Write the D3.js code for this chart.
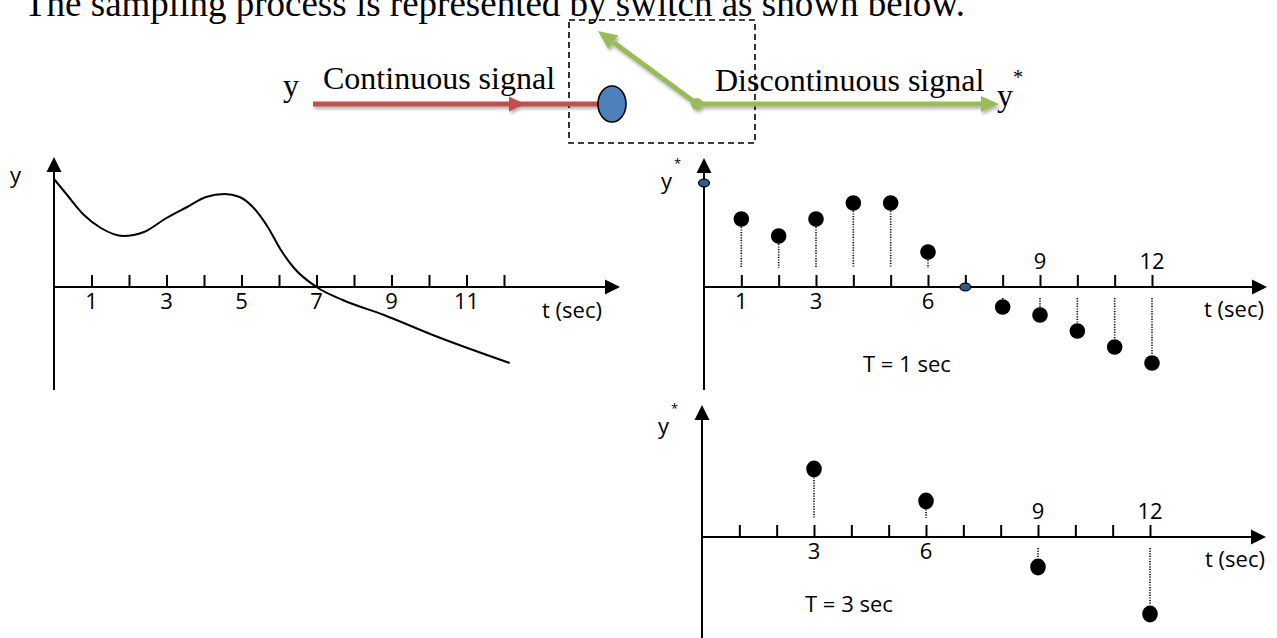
<!DOCTYPE html>
<html>
<head>
<meta charset="utf-8">
<script src="https://cdn.jsdelivr.net/npm/d3@7"></script>
<style>
  html, body { margin: 0; padding: 0; background: #fff; overflow: hidden; }
  svg { display: block; }
</style>
</head>
<body>
<svg id="fig" width="1277" height="638"></svg>
<script>
// ---- text ----
const titleText = "The sampling process is represented by switch as shown below.";
const inputLabel = "Continuous signal";
const outputLabel = "Discontinuous signal";

// ---- continuous signal y(t) ----
const curveT = [0, 0.35, 0.8, 1.25, 1.85, 2.4, 3.0, 3.55, 4.05, 4.55, 4.95, 5.3, 5.7, 6.05, 6.4, 7.0, 7.7, 8.8, 10.1, 12.15];
const curveY = [10.8, 9.2, 7.2, 5.9, 5.1, 5.5, 6.9, 8.0, 9.0, 9.3, 9.0, 8.0, 6.0, 3.7, 1.9, 0, -1.3, -2.8, -4.8, -7.6];

// ---- ticks and tick labels ----
const tickT = [1, 2, 3, 4, 5, 6, 7, 8, 9, 10, 11, 12];
const leftLabels = [1, 3, 5, 7, 9, 11];
const t1LabelsBelow = [1, 3, 6];
const t1LabelsAbove = [9, 12];
const t3LabelsBelow = [3, 6];
const t3LabelsAbove = [9, 12];

// ---- sampled signal y*(t), T = 1 sec ----
const sampleT = [1, 2, 3, 4, 5, 6, 8, 9, 10, 11, 12];
const sampleY = [6.8, 5.1, 6.8, 8.4, 8.4, 3.5, -2.0, -2.8, -4.4, -6.0, -7.6];
const switchT = [0, 7];
const switchY = [10.4, 0];

// ---- sampled signal y*(t), T = 3 sec ----
const slowT = [3, 6, 9, 12];
const slowY = [6.8, 3.6, -3.0, -7.7];

const svg = d3.select("#fig");
const SANS = "'Open Sans', 'Noto Sans', sans-serif";
const SERIF = "'Liberation Serif', 'Times New Roman', serif";
const LABEL_SIZE = 22;

const defs = svg.append("defs");
const shadow = defs.append("filter").attr("id", "soft")
  .attr("filterUnits", "userSpaceOnUse")
  .attr("x", 0).attr("y", 0).attr("width", 1277).attr("height", 200);
shadow.append("feDropShadow").attr("dx", 1.5).attr("dy", 2.5)
  .attr("stdDeviation", 1.6).attr("flood-color", "#000").attr("flood-opacity", 0.3);

// ---------- switch diagram ----------
svg.append("text").attr("x", 24).attr("y", 16)
  .attr("font-family", SERIF).attr("font-size", 37).attr("fill", "#000")
  .text(titleText);

const diag = svg.append("g");
diag.append("rect").attr("x", 569).attr("y", 20).attr("width", 186).attr("height", 123)
  .attr("fill", "none").attr("stroke", "#000").attr("stroke-width", 1.6)
  .attr("stroke-dasharray", "6 4");

const RED = "#c0504d", GREEN = "#9bbb59", BLUE = "#4f81bd";
const wires = diag.append("g").attr("filter", "url(#soft)");
// input wire with a mid arrow
wires.append("line").attr("x1", 313).attr("x2", 600).attr("y1", 104).attr("y2", 104)
  .attr("stroke", RED).attr("stroke-width", 5);
wires.append("path").attr("d", "M525,104 L509,96.5 L509,111.5 Z").attr("fill", RED);

// output wire
wires.append("line").attr("x1", 697).attr("x2", 982).attr("y1", 104).attr("y2", 104)
  .attr("stroke", GREEN).attr("stroke-width", 5);
wires.append("path").attr("d", "M999,104 L981,96 L981,112 Z").attr("fill", GREEN);

// switch arm
const pivot = [697, 104], armTip = [598, 31];
const dx = armTip[0] - pivot[0], dy = armTip[1] - pivot[1];
const len = Math.hypot(dx, dy), ux = dx / len, uy = dy / len;
const hl = 19, hw = 8.5;
const bx = armTip[0] - ux * hl, by = armTip[1] - uy * hl;
wires.append("line").attr("x1", pivot[0]).attr("y1", pivot[1]).attr("x2", bx).attr("y2", by)
  .attr("stroke", GREEN).attr("stroke-width", 5);
wires.append("path")
  .attr("d", `M${armTip[0]},${armTip[1]} L${bx - uy * hw},${by + ux * hw} L${bx + uy * hw},${by - ux * hw} Z`)
  .attr("fill", GREEN);
wires.append("circle").attr("cx", pivot[0]).attr("cy", pivot[1]).attr("r", 6).attr("fill", GREEN);

diag.append("ellipse").attr("cx", 612).attr("cy", 104).attr("rx", 14).attr("ry", 18)
  .attr("fill", BLUE).attr("stroke", "#000").attr("stroke-width", 1.6);

diag.append("text").attr("x", 283).attr("y", 96).attr("font-family", SERIF).attr("font-size", 32).text("y");
diag.append("text").attr("x", 323).attr("y", 89).attr("font-family", SERIF).attr("font-size", 32).text(inputLabel);
diag.append("text").attr("x", 715).attr("y", 91).attr("font-family", SERIF).attr("font-size", 32).text(outputLabel);
diag.append("text").attr("x", 997).attr("y", 106).attr("font-family", SERIF).attr("font-size", 32).text("y");
diag.append("text").attr("x", 1013).attr("y", 84).attr("font-family", SERIF).attr("font-size", 20).text("*");

// ---------- shared axis drawing ----------
function drawAxes(g, x, y, o) {
  const ox = x(0), oy = y(0);
  g.append("line").attr("x1", ox).attr("x2", ox).attr("y1", o.yBottom).attr("y2", o.yTip + 12)
    .attr("stroke", "#000").attr("stroke-width", 2);
  g.append("path").attr("d", `M${ox},${o.yTip} L${ox - 7.5},${o.yTip + 15} L${ox + 7.5},${o.yTip + 15} Z`)
    .attr("fill", "#000");
  g.append("line").attr("x1", ox).attr("x2", o.xTip - 12).attr("y1", oy).attr("y2", oy)
    .attr("stroke", "#000").attr("stroke-width", 2);
  g.append("path").attr("d", `M${o.xTip},${oy} L${o.xTip - 15},${oy - 7.5} L${o.xTip - 15},${oy + 7.5} Z`)
    .attr("fill", "#000");
  const axis = d3.axisBottom(x).tickValues(tickT).tickSizeInner(-12).tickSizeOuter(0).tickFormat("");
  const ag = g.append("g").attr("transform", `translate(0,${oy})`).call(axis);
  ag.select(".domain").remove();
  ag.selectAll(".tick line").attr("stroke", "#000").attr("stroke-width", 2);
}

function tickLabels(g, x, y, values, dy) {
  g.selectAll(null).data(values).join("text")
    .attr("x", d => x(d)).attr("y", y(0) + dy)
    .attr("text-anchor", "middle").attr("font-family", SANS).attr("font-size", LABEL_SIZE)
    .text(d => d);
}

function axisText(g, xPos, yPos, str, size) {
  return g.append("text").attr("x", xPos).attr("y", yPos)
    .attr("font-family", SANS).attr("font-size", size || LABEL_SIZE).text(str);
}

function starLabel(g, xPos, yPos) {
  axisText(g, xPos, yPos, "y");
  axisText(g, xPos + 13, yPos - 21, "*", 13);
}

// ---------- continuous signal ----------
{
  const g = svg.append("g");
  const x = d3.scaleLinear().domain([0, 12]).range([54, 504]);
  const y = d3.scaleLinear().domain([0, 10]).range([287, 187]);
  drawAxes(g, x, y, { yTip: 157, yBottom: 390, xTip: 620 });
  tickLabels(g, x, y, leftLabels, 22);
  axisText(g, 542, 318, "t (sec)");
  axisText(g, 10, 183, "y");
  const pts = curveT.map((t, i) => [t, curveY[i]]);
  g.append("path").datum(pts)
    .attr("d", d3.line().x(d => x(d[0])).y(d => y(d[1])).curve(d3.curveMonotoneX))
    .attr("fill", "none").attr("stroke", "#000").attr("stroke-width", 2);
}

// ---------- sampled signal drawing ----------
function stems(g, x, y, ts, vs, r) {
  const data = ts.map((t, i) => ({ t, v: vs[i] }));
  const oy = y(0);
  g.selectAll(null).data(data).join("line")
    .attr("x1", d => x(d.t)).attr("x2", d => x(d.t))
    .attr("y1", d => d.v >= 0 ? y(d.v) + r : oy + 11)
    .attr("y2", d => d.v >= 0 ? oy - 19 : y(d.v) - r)
    .attr("stroke", "#000").attr("stroke-width", 1.6).attr("stroke-dasharray", "1.2 1.4");
  g.selectAll(null).data(data).join("ellipse")
    .attr("cx", d => x(d.t)).attr("cy", d => y(d.v))
    .attr("rx", 7.8).attr("ry", r).attr("fill", "#000");
}

// ---------- T = 1 sec ----------
{
  const g = svg.append("g");
  const x = d3.scaleLinear().domain([0, 12]).range([704, 1152]);
  const y = d3.scaleLinear().domain([0, 10]).range([287, 187]);
  drawAxes(g, x, y, { yTip: 158, yBottom: 390, xTip: 1267 });
  tickLabels(g, x, y, t1LabelsBelow, 22);
  tickLabels(g, x, y, t1LabelsAbove, -18);
  axisText(g, 1204, 317, "t (sec)");
  axisText(g, 863, 372, "T = 1 sec");
  starLabel(g, 661, 189);
  stems(g, x, y, sampleT, sampleY, 7.8);
  g.selectAll(null).data(switchT.map((t, i) => ({ t, v: switchY[i] }))).join("ellipse")
    .attr("cx", d => x(d.t)).attr("cy", d => y(d.v))
    .attr("rx", 5.5).attr("ry", 3.8)
    .attr("fill", "#2f5b8c").attr("stroke", "#000").attr("stroke-width", 1.2);
}

// ---------- T = 3 sec ----------
{
  const g = svg.append("g");
  const x = d3.scaleLinear().domain([0, 12]).range([702, 1150]);
  const y = d3.scaleLinear().domain([0, 10]).range([537, 437]);
  drawAxes(g, x, y, { yTip: 405, yBottom: 640, xTip: 1266 });
  tickLabels(g, x, y, t3LabelsBelow, 22);
  tickLabels(g, x, y, t3LabelsAbove, -18);
  axisText(g, 1205, 567, "t (sec)");
  axisText(g, 805, 612, "T = 3 sec");
  starLabel(g, 658, 434);
  stems(g, x, y, slowT, slowY, 8.4);
}
</script>
</body>
</html>
